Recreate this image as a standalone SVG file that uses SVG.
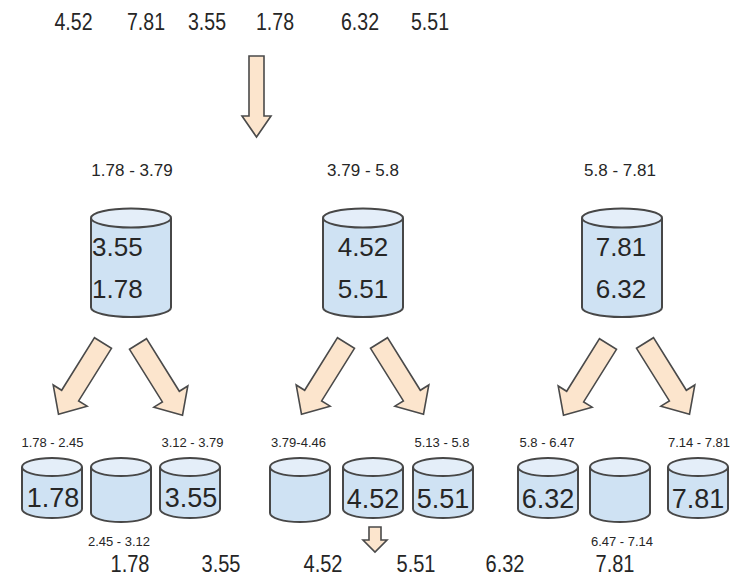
<svg xmlns="http://www.w3.org/2000/svg" width="740" height="578" viewBox="0 0 740 578">
<defs>
<style>
text{font-family:"Liberation Sans",Arial,sans-serif;fill:#262626;text-anchor:middle}
.num{font-size:23.5px}
.rng{font-size:17px}
.srng{font-size:13px}
.big{font-size:26px}
.sm{font-size:27px}
.body{fill:#cfe2f3;stroke:#474747;stroke-width:2}
.top{fill:#e4eef9;stroke:#474747;stroke-width:2}
.arr{fill:#fce5cd;stroke:#4a4a4a;stroke-width:1.6;stroke-linejoin:miter}
</style>
<path id="sa" d="M-10,0 L10,0 L10,62 L20,62 L0,84 L-20,62 L-10,62 Z"/>
</defs>
<rect width="740" height="578" fill="#ffffff"/>

<g id="input">
<text class="num" x="73.5" y="30" textLength="38" lengthAdjust="spacingAndGlyphs">4.52</text>
<text class="num" x="146" y="30" textLength="38" lengthAdjust="spacingAndGlyphs">7.81</text>
<text class="num" x="207" y="30" textLength="38" lengthAdjust="spacingAndGlyphs">3.55</text>
<text class="num" x="275" y="30" textLength="38" lengthAdjust="spacingAndGlyphs">1.78</text>
<text class="num" x="360" y="30" textLength="38" lengthAdjust="spacingAndGlyphs">6.32</text>
<text class="num" x="430" y="30" textLength="38" lengthAdjust="spacingAndGlyphs">5.51</text>
</g>

<g id="bucket1">
<text class="rng" x="132" y="176">1.78 - 3.79</text>
<path class="body" d="M91,218 V307.5 A40,9.5 0 0 0 171,307.5 V218"/>
<ellipse class="top" cx="131" cy="218" rx="40" ry="9.5"/>
<text class="big" x="92" y="256" style="text-anchor:start">3.55</text>
<text class="big" x="92" y="298" style="text-anchor:start">1.78</text>
</g>

<g id="bucket2">
<text class="rng" x="363" y="176">3.79 - 5.8</text>
<path class="body" d="M323,218 V307.5 A40,9.5 0 0 0 403,307.5 V218"/>
<ellipse class="top" cx="363" cy="218" rx="40" ry="9.5"/>
<text class="big" x="363" y="256">4.52</text>
<text class="big" x="363" y="298">5.51</text>
</g>

<g id="bucket3">
<text class="rng" x="620" y="176">5.8 - 7.81</text>
<path class="body" d="M582,218 V307.5 A40,9.5 0 0 0 662,307.5 V218"/>
<ellipse class="top" cx="622" cy="218" rx="40" ry="9.5"/>
<text class="big" x="621" y="256">7.81</text>
<text class="big" x="621" y="298">6.32</text>
</g>

<g id="sb1">
<text class="srng" x="52.5" y="447">1.78 - 2.45</text>
<path class="body" d="M22,467 V509 A30,9 0 0 0 82,509 V467"/>
<ellipse class="top" cx="52" cy="467" rx="30" ry="9"/>
<text class="sm" x="53" y="507">1.78</text>
</g>
<g id="sb2">
<text class="srng" x="119" y="546">2.45 - 3.12</text>
<path class="body" d="M91,467 V513 A30,9 0 0 0 151,513 V467"/>
<ellipse class="top" cx="121" cy="467" rx="30" ry="9"/>
</g>
<g id="sb3">
<text class="srng" x="192.5" y="447">3.12 - 3.79</text>
<path class="body" d="M160,467 V509 A30,9 0 0 0 220,509 V467"/>
<ellipse class="top" cx="190" cy="467" rx="30" ry="9"/>
<text class="sm" x="191" y="507">3.55</text>
</g>

<g id="sb4">
<text class="srng" x="298.5" y="447">3.79-4.46</text>
<path class="body" d="M270,467 V513 A30,9 0 0 0 330,513 V467"/>
<ellipse class="top" cx="300" cy="467" rx="30" ry="9"/>
</g>
<g id="sb5">
<path class="body" d="M343,467 V509 A30,9 0 0 0 403,509 V467"/>
<ellipse class="top" cx="373" cy="467" rx="30" ry="9"/>
<text class="sm" x="373" y="508">4.52</text>
</g>
<g id="sb6">
<text class="srng" x="442" y="447">5.13 - 5.8</text>
<path class="body" d="M413,467 V509 A30,9 0 0 0 473,509 V467"/>
<ellipse class="top" cx="443" cy="467" rx="30" ry="9"/>
<text class="sm" x="443" y="508">5.51</text>
</g>

<g id="sb7">
<text class="srng" x="547" y="447">5.8 - 6.47</text>
<path class="body" d="M518,467 V509 A30,9 0 0 0 578,509 V467"/>
<ellipse class="top" cx="548" cy="467" rx="30" ry="9"/>
<text class="sm" x="548" y="508">6.32</text>
</g>
<g id="sb8">
<text class="srng" x="622" y="546">6.47 - 7.14</text>
<path class="body" d="M590,467 V513 A30,9 0 0 0 650,513 V467"/>
<ellipse class="top" cx="620" cy="467" rx="30" ry="9"/>
</g>
<g id="sb9">
<text class="srng" x="699" y="447">7.14 - 7.81</text>
<path class="body" d="M668,467 V509 A30,9 0 0 0 728,509 V467"/>
<ellipse class="top" cx="698" cy="467" rx="30" ry="9"/>
<text class="sm" x="698" y="508">7.81</text>
</g>

<g id="output">
<text class="num" x="130" y="572" textLength="39" lengthAdjust="spacingAndGlyphs">1.78</text>
<text class="num" x="221" y="572" textLength="39" lengthAdjust="spacingAndGlyphs">3.55</text>
<text class="num" x="323" y="572" textLength="39" lengthAdjust="spacingAndGlyphs">4.52</text>
<text class="num" x="416" y="572" textLength="39" lengthAdjust="spacingAndGlyphs">5.51</text>
<text class="num" x="505" y="572" textLength="39" lengthAdjust="spacingAndGlyphs">6.32</text>
<text class="num" x="615" y="572" textLength="39" lengthAdjust="spacingAndGlyphs">7.81</text>
</g>

<g id="connectors">
<path class="arr" d="M249,56 H264 V116 H271 L256.5,137 L242,116 H249 Z"/>
<use href="#sa" class="arr" transform="translate(103,343) rotate(32)"/>
<use href="#sa" class="arr" transform="translate(138,344) rotate(-32)"/>
<use href="#sa" class="arr" transform="translate(346,343) rotate(32)"/>
<use href="#sa" class="arr" transform="translate(379,343) rotate(-32)"/>
<use href="#sa" class="arr" transform="translate(608,344) rotate(32)"/>
<use href="#sa" class="arr" transform="translate(645,343) rotate(-32)"/>
<path class="arr" d="M369,527 H381 V540 H387 L375,552 L363,540 H369 Z"/>
</g>
</svg>
